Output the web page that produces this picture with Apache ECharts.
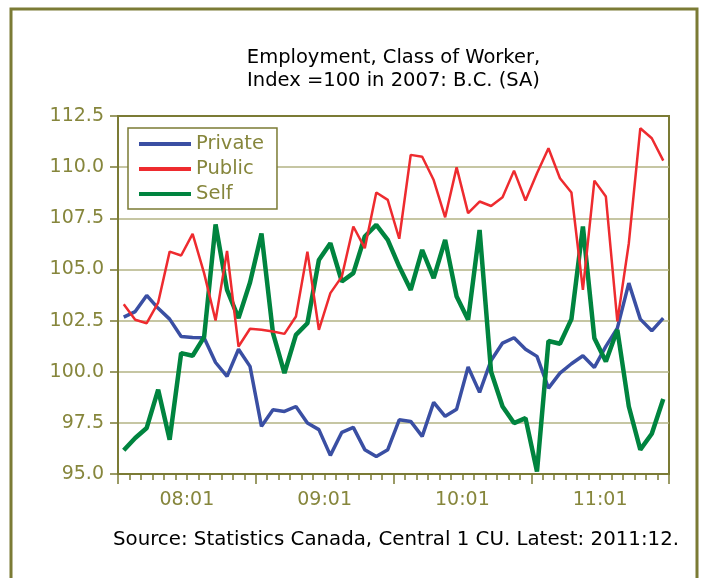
<!DOCTYPE html>
<html>
<head>
<meta charset="utf-8">
<script src="https://cdn.jsdelivr.net/npm/echarts@6/dist/echarts.min.js"></script>
<style>
    html, body {margin: 0; padding: 0; background: #fff;}
    #chart {width: 704px; height: 578px;}
</style>
</head>
<body>
<div id="chart"></div>
<script>
// 2008:01 .. 2011:12, monthly
const years = ['08', '09', '10', '11'];
const yearLabels = ['08:01', '09:01', '10:01', '11:01'];
const months = [];
years.forEach(function (y) {
    for (let m = 1; m <= 12; m++) {
        months.push(y + ':' + (m < 10 ? '0' + m : m));
    }
});

const privateIdx = [
    102.67, 102.94, 103.73, 103.1, 102.57, 101.72, 101.67, 101.66, 100.45, 99.77, 101.1, 100.26,
    97.33, 98.14, 98.06, 98.3, 97.49, 97.17, 95.91, 97.04, 97.28, 96.19, 95.86, 96.19,
    97.65, 97.57, 96.84, 98.5, 97.82, 98.17, 100.23, 98.99, 100.55, 101.4, 101.66, 101.1,
    100.75, 99.2, 99.93, 100.39, 100.78, 100.21, 101.24, 102.13, 104.33, 102.57, 102.0, 102.62
];
const publicIdx = [
    103.3, 102.54, 102.37, 103.38, 105.87, 105.68, 106.74, 104.82, 102.5, 105.9, 101.23, 102.1,
    102.05, 101.97, 101.85, 102.7, 105.87, 102.05, 103.84, 104.65, 107.1, 106.04, 108.76, 108.4,
    106.5, 110.6, 110.51, 109.37, 107.55, 109.99, 107.75, 108.32, 108.1, 108.53, 109.83, 108.37,
    109.7, 110.92, 109.46, 108.76, 104.0, 109.34, 108.56, 102.46, 106.28, 111.9, 111.41, 110.32
];
const selfIdx = [
    96.16, 96.76, 97.25, 99.12, 96.68, 100.91, 100.78, 101.69, 107.2, 104.0, 102.62, 104.36,
    106.75, 101.89, 99.93, 101.8, 102.37, 105.46, 106.28, 104.41, 104.82, 106.61, 107.18, 106.45,
    105.14, 104.0, 105.95, 104.57, 106.44, 103.68, 102.54, 106.93, 100.0, 98.3, 97.49, 97.73,
    95.12, 101.5, 101.37, 102.57, 107.1, 101.64, 100.5, 102.05, 98.3, 96.19, 96.97, 98.67
];

const olive = '#7b7b35';
const oliveText = '#86863c';
const gridColor = '#b3b384';
const font = 'DejaVu Sans';

let chart = echarts.init(document.getElementById('chart'), null, {renderer: 'canvas'});

let option = {
    animation: false,
    backgroundColor: '#fff',
    grid: {
        left: 118, right: 35, top: 116, bottom: 104,
        show: true,
        borderColor: olive,
        borderWidth: 2
    },
    legend: {
        orient: 'vertical',
        left: 128,
        top: 128,
        data: ['Private', 'Public', 'Self'],
        icon: 'rect',
        itemWidth: 52,
        itemHeight: 4,
        itemGap: 5,
        padding: [6, 13, 5, 11],
        backgroundColor: '#fff',
        borderColor: olive,
        borderWidth: 1.5,
        textStyle: {color: oliveText, fontFamily: font, fontSize: 19.5, lineHeight: 20}
    },
    xAxis: [
        {
            type: 'category',
            data: months,
            boundaryGap: true,
            axisLine: {show: true, lineStyle: {color: olive, width: 2}},
            axisTick: {show: true, inside: false, interval: 0, length: 6, lineStyle: {color: olive, width: 1.5}},
            axisLabel: {show: false},
            splitLine: {show: false}
        },
        {
            type: 'category',
            data: yearLabels,
            position: 'bottom',
            boundaryGap: true,
            axisLine: {show: false},
            axisTick: {show: true, inside: false, interval: 0, length: 10, lineStyle: {color: olive, width: 1.5}},
            axisLabel: {color: oliveText, fontFamily: font, fontSize: 19, margin: 17},
            splitLine: {show: false}
        }
    ],
    yAxis: {
        type: 'value',
        min: 95,
        max: 112.5,
        interval: 2.5,
        axisLine: {show: true, lineStyle: {color: olive, width: 2}},
        axisTick: {show: true, inside: false, length: 8, lineStyle: {color: olive, width: 1.5}},
        axisLabel: {
            color: oliveText, fontFamily: font, fontSize: 19, margin: 14,
            formatter: function (v) { return v.toFixed(1); }
        },
        splitLine: {show: true, showMinLine: false, showMaxLine: false, lineStyle: {color: gridColor, width: 1.5}}
    },
    series: [
        {
            name: 'Private', type: 'line', data: privateIdx, symbol: 'none',
            color: '#3a4fa3', lineStyle: {width: 3.5}, z: 2
        },
        {
            name: 'Self', type: 'line', data: selfIdx, symbol: 'none',
            color: '#00843f', lineStyle: {width: 4.5}, z: 3
        },
        {
            name: 'Public', type: 'line', data: publicIdx, symbol: 'none',
            color: '#ee2b2f', lineStyle: {width: 2.5}, z: 4
        }
    ],
    graphic: [
        {
            type: 'rect', z: 0, silent: true,
            shape: {x: 11, y: 9, width: 686, height: 620},
            style: {fill: 'none', stroke: olive, lineWidth: 3}
        },
        {
            type: 'text', x: 393.5, y: 58,
            style: {text: 'Employment, Class of Worker,', fill: '#000', font: '19.5px "DejaVu Sans"', textAlign: 'center', textVerticalAlign: 'middle'}
        },
        {
            type: 'text', x: 393.5, y: 81,
            style: {text: 'Index =100 in 2007: B.C. (SA)', fill: '#000', font: '19.5px "DejaVu Sans"', textAlign: 'center', textVerticalAlign: 'middle'}
        },
        {
            type: 'text', x: 396, y: 540,
            style: {text: 'Source: Statistics Canada, Central 1 CU. Latest: 2011:12.', fill: '#000', font: '19.8px "DejaVu Sans"', textAlign: 'center', textVerticalAlign: 'middle'}
        }
    ]
};

chart.setOption(option);
</script>
</body>
</html>
